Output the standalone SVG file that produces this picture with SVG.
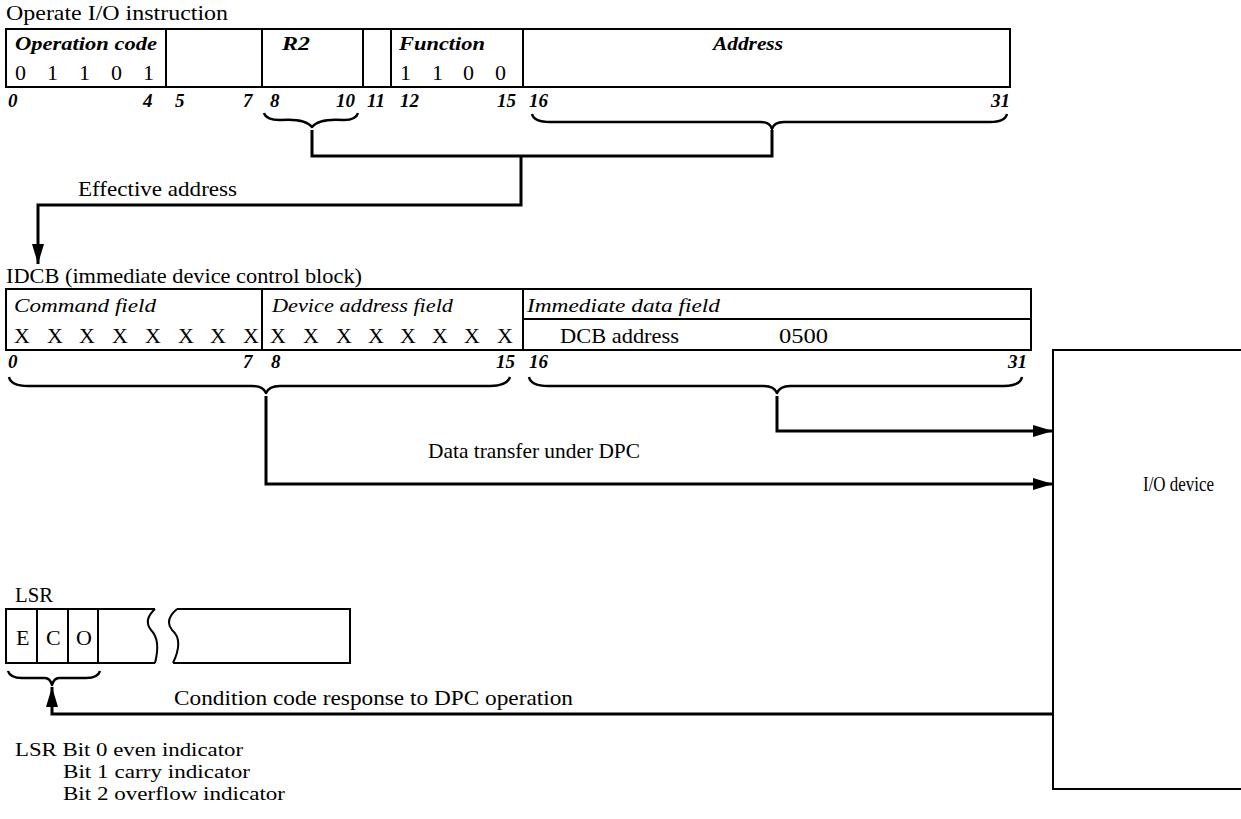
<svg xmlns="http://www.w3.org/2000/svg" width="1241" height="819" viewBox="0 0 1241 819">
<style>
.box{fill:none;stroke:#000;stroke-width:2}
.brace{fill:none;stroke:#000;stroke-width:2.5;stroke-linejoin:round}
.conn{fill:none;stroke:#000;stroke-width:3}
text{font-family:"Liberation Serif","Times New Roman","DejaVu Serif",serif;fill:#000}
.t{font-size:21px}
.s{font-size:19px}
.d{font-size:22px}
.it{font-size:19px;font-style:italic}
.bi{font-size:19px;font-style:italic;font-weight:bold}
.n{font-size:19px;font-style:italic;font-weight:bold}
</style>
<defs>
<marker id="arr" markerWidth="20" markerHeight="12" refX="20" refY="6" orient="auto" markerUnits="userSpaceOnUse"><path d="M0,0 L20,6 L0,12 z" fill="#000"/></marker>
</defs>
<rect width="1241" height="819" fill="#fff"/>

<g id="instruction">
<text class="t" x="6" y="20" textLength="222" lengthAdjust="spacingAndGlyphs">Operate I/O instruction</text>
<rect class="box" x="6" y="29" width="1004" height="58"/>
<path class="box" d="M166,29V87M262,29V87M363,29V87M391,29V87M523,29V87"/>
<text class="bi" x="15" y="50" textLength="142" lengthAdjust="spacingAndGlyphs">Operation code</text>
<text class="d" x="15 47 79 111 143" y="80">01101</text>
<text class="bi" x="282" y="50" textLength="28" lengthAdjust="spacingAndGlyphs">R2</text>
<text class="bi" x="399" y="50" textLength="86" lengthAdjust="spacingAndGlyphs">Function</text>
<text class="d" x="400 432 463 495" y="80">1100</text>
<text class="bi" x="713" y="50" textLength="70" lengthAdjust="spacingAndGlyphs">Address</text>
<text class="n" x="8" y="107">0</text>
<text class="n" x="143" y="107">4</text>
<text class="n" x="175" y="107">5</text>
<text class="n" x="243" y="107">7</text>
<text class="n" x="270" y="107">8</text>
<text class="n" x="336" y="107">10</text>
<text class="n" x="367" y="107">11</text>
<text class="n" x="400" y="107">12</text>
<text class="n" x="497" y="107">15</text>
<text class="n" x="529" y="107">16</text>
<text class="n" x="991" y="107">31</text>
<path class="brace" d="M264,113 Q266,120 280,120 Q305,118 312,127 Q319,118 344,120 Q356,120 358,113"/>
<path class="brace" d="M532,114 Q534,122 550,122 L760,122 Q770,122 772,129 Q774,122 784,122 L990,122 Q1005,122 1007,114"/>
</g>

<g id="idcb">
<text class="t" x="6" y="283" textLength="356" lengthAdjust="spacingAndGlyphs">IDCB (immediate device control block)</text>
<rect class="box" x="6" y="289" width="1025" height="61"/>
<path class="box" d="M262,289V350M523,289V350M523,319H1031"/>
<text class="it" x="14" y="312" textLength="142" lengthAdjust="spacingAndGlyphs">Command field</text>
<text class="it" x="272" y="312" textLength="181" lengthAdjust="spacingAndGlyphs">Device address field</text>
<text class="it" x="527" y="312" textLength="193" lengthAdjust="spacingAndGlyphs">Immediate data field</text>
<text class="d" x="14 47 79 112 145 178 210 243" y="343">XXXXXXXX</text>
<text class="d" x="270 303 336 368 400 432 464 497" y="343">XXXXXXXX</text>
<text class="t" x="560" y="343" textLength="119" lengthAdjust="spacingAndGlyphs">DCB address</text>
<text class="t" x="779" y="343" textLength="49" lengthAdjust="spacingAndGlyphs">0500</text>
<text class="n" x="8" y="368">0</text>
<text class="n" x="243" y="368">7</text>
<text class="n" x="271" y="368">8</text>
<text class="n" x="496" y="368">15</text>
<text class="n" x="529" y="368">16</text>
<text class="n" x="1008" y="368">31</text>
<path class="brace" d="M9,377 Q11,386 28,386 L252,386 Q263,386 266,393 Q269,386 280,386 L490,386 Q507,386 510,377"/>
<path class="brace" d="M529,377 Q531,386 548,386 L764,386 Q774,386 777,393 Q780,386 790,386 L1004,386 Q1020,386 1022,377"/>
</g>

<g id="io-device">
<path class="box" d="M1241,350H1053V789H1241"/>
<text class="t" x="1143" y="491" textLength="71" lengthAdjust="spacingAndGlyphs">I/O device</text>
</g>

<g id="lsr">
<text class="t" x="15" y="602" textLength="38" lengthAdjust="spacingAndGlyphs">LSR</text>
<path class="box" d="M155,609H6V663H155M155,609Q143,620 151,630Q161,640 155,663"/>
<path class="box" d="M37,609V663M68,609V663M98,609V663"/>
<path class="box" d="M177,609H350V663H173M177,609Q164,620 172,630Q184,640 173,663"/>
<text class="d" x="16" y="645">E</text>
<text class="d" x="46" y="645">C</text>
<text class="d" x="76" y="645">O</text>
<path class="brace" d="M8,671 Q10,678 22,678 L45,678 Q50,678 52,685 Q54,678 59,678 L86,678 Q98,678 100,671"/>
</g>

<g id="legend">
<text class="s" x="15" y="756" textLength="228" lengthAdjust="spacingAndGlyphs">LSR Bit 0 even indicator</text>
<text class="s" x="63" y="778" textLength="187" lengthAdjust="spacingAndGlyphs">Bit 1 carry indicator</text>
<text class="s" x="63" y="800" textLength="222" lengthAdjust="spacingAndGlyphs">Bit 2 overflow indicator</text>
</g>

<g id="connectors">
<path class="conn" d="M312,130V156H772V130"/>
<path class="conn" d="M521,156V205H38V264" marker-end="url(#arr)"/>
<text class="t" x="78" y="196" textLength="159" lengthAdjust="spacingAndGlyphs">Effective address</text>
<path class="conn" d="M777,396V431H1053" marker-end="url(#arr)"/>
<path class="conn" d="M266,396V484H1053" marker-end="url(#arr)"/>
<text class="t" x="428" y="458" textLength="212" lengthAdjust="spacingAndGlyphs">Data transfer under DPC</text>
<path class="conn" d="M1053,714H52V687" marker-end="url(#arr)"/>
<text class="t" x="174" y="705" textLength="399" lengthAdjust="spacingAndGlyphs">Condition code response to DPC operation</text>
</g>
</svg>
